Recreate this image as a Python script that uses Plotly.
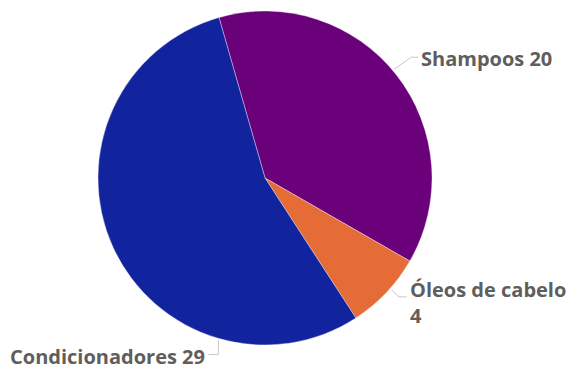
import math
import plotly.graph_objects as go

# Product categories and their counts
categories = ["Shampoos", "Óleos de cabelo", "Condicionadores"]
values = [20, 4, 29]
colors = ["#6B007B", "#E66C37", "#12239E"]

W, H = 569, 369
CX, CY, R = 265, 178, 167      # pie centre and radius in pixels
ROTATION = -16                  # first slice starts a bit left of 12 o'clock

fig = go.Figure(go.Pie(
    labels=categories,
    values=values,
    sort=False,
    direction="clockwise",
    rotation=ROTATION,
    marker=dict(colors=colors, line=dict(color="rgba(255,255,255,0.6)", width=0.6)),
    textinfo="none",
    hoverinfo="label+value",
    showlegend=False,
    domain=dict(x=[(CX - R) / W, (CX + R) / W], y=[1 - (CY + R) / H, 1 - (CY - R) / H]),
))


def px(x, y):
    return x / W, 1 - y / H


def edge(angle_deg, r=R + 2):
    a = math.radians(angle_deg)
    return CX + r * math.sin(a), CY - r * math.cos(a)


# Mid angle of each slice (degrees clockwise from 12 o'clock)
total = sum(values)
mids = []
start = ROTATION
for v in values:
    span = 360 * v / total
    mids.append(start + span / 2)
    start += span

# Label anchor angles on the rim; the large slice is labelled near its lower edge
anchor_angles = [mids[0] - 2, mids[1] - 2, 196]
# leader-line elbow offsets (dx, dy), horizontal tail, label text, alignment, y shift
label_specs = [
    (dict(dx=17, dy=-12, tail=7), "Shampoos 20", "left", -1),
    (dict(dx=7, dy=7, tail=8), "Óleos de cabelo<br>4", "left", -6),
    (dict(dx=0, dy=14, tail=-10), "Condicionadores 29", "right", -2),
]

shapes = []
annotations = []
for ang, (seg, text, align, ysh) in zip(anchor_angles, label_specs):
    x0, y0 = edge(ang)
    x1, y1 = x0 + seg["dx"], y0 + seg["dy"]
    x2, y2 = x1 + seg["tail"], y1
    p0, p1, p2 = px(x0, y0), px(x1, y1), px(x2, y2)
    shapes.append(dict(
        type="path", xref="paper", yref="paper",
        path=f"M {p0[0]},{p0[1]} L {p1[0]},{p1[1]} L {p2[0]},{p2[1]}",
        line=dict(color="#C8C8C8", width=1),
    ))
    annotations.append(dict(
        x=p2[0], y=p2[1], xref="paper", yref="paper",
        text=f"<b>{text}</b>", showarrow=False,
        xanchor="left" if align == "left" else "right",
        yanchor="middle",
        yshift=ysh,
        xshift=1 if align == "left" else -1,
        align="left",
        font=dict(family="Open Sans, Segoe UI, sans-serif", size=20, color="#605E5C"),
    ))

fig.update_layout(
    width=W, height=H,
    margin=dict(l=0, r=0, t=0, b=0),
    paper_bgcolor="white",
    plot_bgcolor="white",
    shapes=shapes,
    annotations=annotations,
)

fig.write_html("out.html")
